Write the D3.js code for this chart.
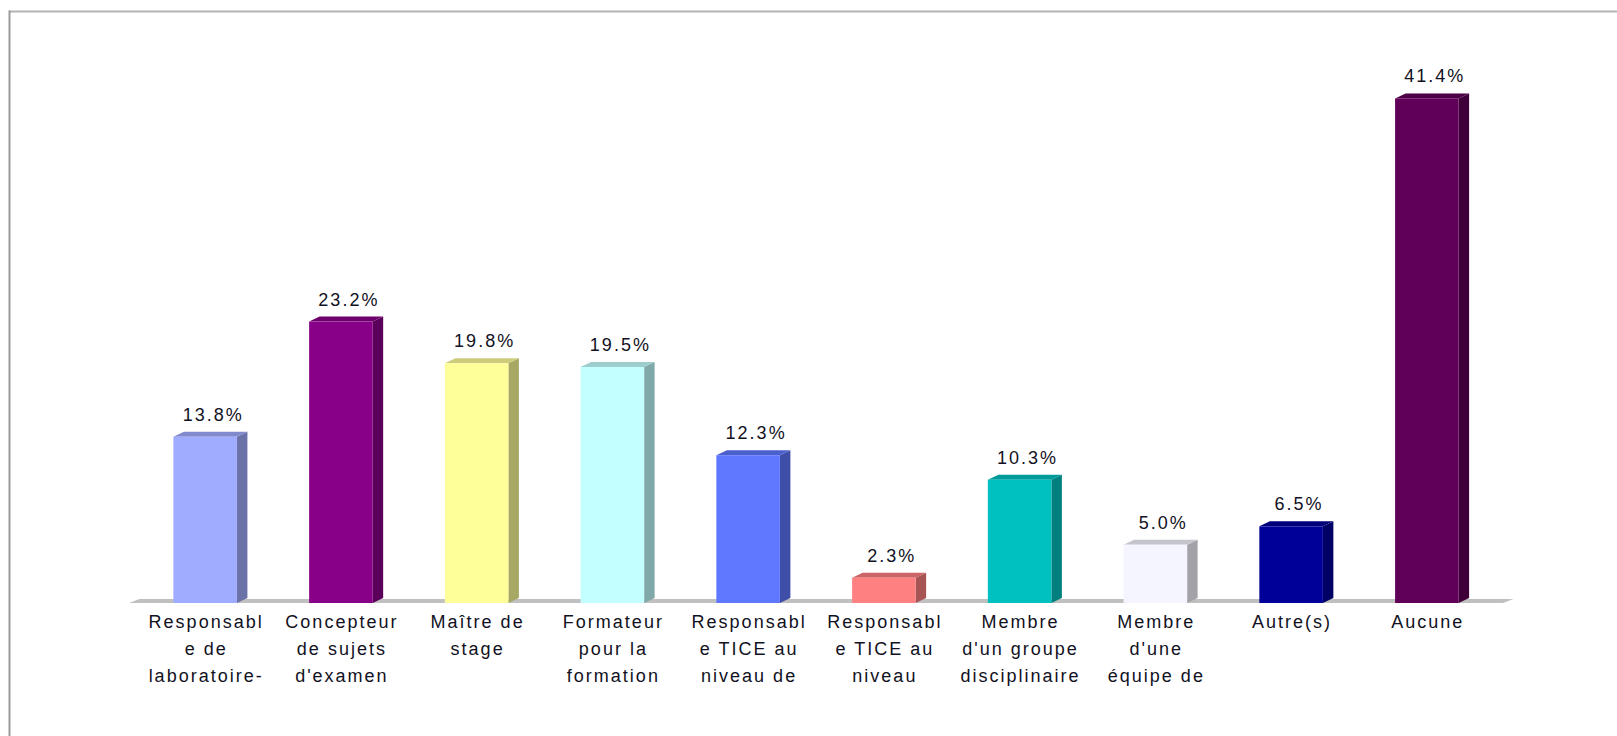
<!DOCTYPE html>
<html>
<head>
<meta charset="utf-8">
<script src="https://cdn.jsdelivr.net/npm/d3@7"></script>
<style>
  html, body { margin: 0; padding: 0; background: #ffffff; }
  svg { display: block; }
</style>
</head>
<body>
<svg id="chart" width="1617" height="736"></svg>
<script>
// ---- Data ----
const categories = [
  ["Responsabl", "e de", "laboratoire-"],
  ["Concepteur", "de sujets", "d'examen"],
  ["Maître de", "stage"],
  ["Formateur", "pour la", "formation"],
  ["Responsabl", "e TICE au", "niveau de"],
  ["Responsabl", "e TICE au", "niveau"],
  ["Membre", "d'un groupe", "disciplinaire"],
  ["Membre", "d'une", "équipe de"],
  ["Autre(s)"],
  ["Aucune"]
];
const values = [13.8, 23.2, 19.8, 19.5, 12.3, 2.3, 10.3, 5.0, 6.5, 41.4];
const valueLabels = ["13.8%", "23.2%", "19.8%", "19.5%", "12.3%", "2.3%", "10.3%", "5.0%", "6.5%", "41.4%"];
const colors = ["#a0acff", "#880088", "#ffff99", "#c4ffff", "#5f78ff", "#ff8080", "#00c0c0", "#f5f5ff", "#000099", "#600058"];

// ---- Layout ----
const svg = d3.select("#chart");
const baseY = 603;      // bottom of bar fronts / floor
const dx = 10.5, dy = 5; // 3D depth offset

const x = d3.scaleBand()
  .domain(d3.range(values.length))
  .range([129, 1503])
  .paddingInner(0.532)
  .paddingOuter(0.327);

const y = d3.scaleLinear()
  .domain([0, 45])
  .range([606, 606 - 45 * 12.26]);

function shade(c, k) {
  const r = d3.rgb(c);
  return d3.rgb(r.r * k, r.g * k, r.b * k).formatHex();
}

// ---- Frame ----
svg.append("line").attr("x1", 9).attr("x2", 1617).attr("y1", 11.5).attr("y2", 11.5)
  .attr("stroke", "#b4b4b4").attr("stroke-width", 2);
svg.append("line").attr("x1", 9.5).attr("x2", 9.5).attr("y1", 10.5).attr("y2", 736)
  .attr("stroke", "#9a9a9a").attr("stroke-width", 2);

// ---- Floor ----
const [r0, r1] = x.range();
svg.append("polygon")
  .attr("points", [[r0, baseY], [r0 + dx, baseY - 4], [r1 + dx, baseY - 4], [r1, baseY]].map(p => p.join(",")).join(" "))
  .attr("fill", "#c0c0c0");

// ---- Bars ----
const w = x.bandwidth();
const g = svg.append("g");
const bars = g.selectAll("g.bar").data(values).join("g").attr("class", "bar");

// side face
bars.append("polygon")
  .attr("points", (d, i) => {
    const x0 = x(i) + w, t = y(d);
    return [[x0, t], [x0 + dx, t - dy], [x0 + dx, baseY - dy], [x0, baseY]].map(p => p.join(",")).join(" ");
  })
  .attr("fill", (d, i) => shade(colors[i], 0.66));

// top face
bars.append("polygon")
  .attr("points", (d, i) => {
    const x0 = x(i), t = y(d);
    return [[x0, t], [x0 + dx, t - dy], [x0 + w + dx, t - dy], [x0 + w, t]].map(p => p.join(",")).join(" ");
  })
  .attr("fill", (d, i) => shade(colors[i], 0.8));

// front face
bars.append("rect")
  .attr("x", (d, i) => x(i))
  .attr("y", d => y(d))
  .attr("width", w)
  .attr("height", d => baseY - y(d))
  .attr("fill", (d, i) => colors[i]);

// ---- Value labels ----
svg.append("g").selectAll("text").data(values).join("text")
  .attr("x", (d, i) => x(i) + w / 2 + 8)
  .attr("y", d => y(d) - 16)
  .attr("text-anchor", "middle")
  .attr("font-family", "'Liberation Sans', Arial, sans-serif")
  .attr("font-size", 18)
  .attr("letter-spacing", "2px")
  .attr("fill", "#111122")
  .text((d, i) => valueLabels[i]);

// ---- Category labels ----
const cat = svg.append("g").selectAll("text").data(categories).join("text")
  .attr("text-anchor", "middle")
  .attr("font-family", "'Liberation Sans', Arial, sans-serif")
  .attr("font-size", 18)
  .attr("letter-spacing", "2px")
  .attr("fill", "#111122");
cat.selectAll("tspan").data((d, i) => d.map(line => ({ line, i }))).join("tspan")
  .attr("x", d => x(d.i) + w / 2 + 1)
  .attr("y", (d, j) => 628 + j * 27)
  .text(d => d.line);
</script>
</body>
</html>
